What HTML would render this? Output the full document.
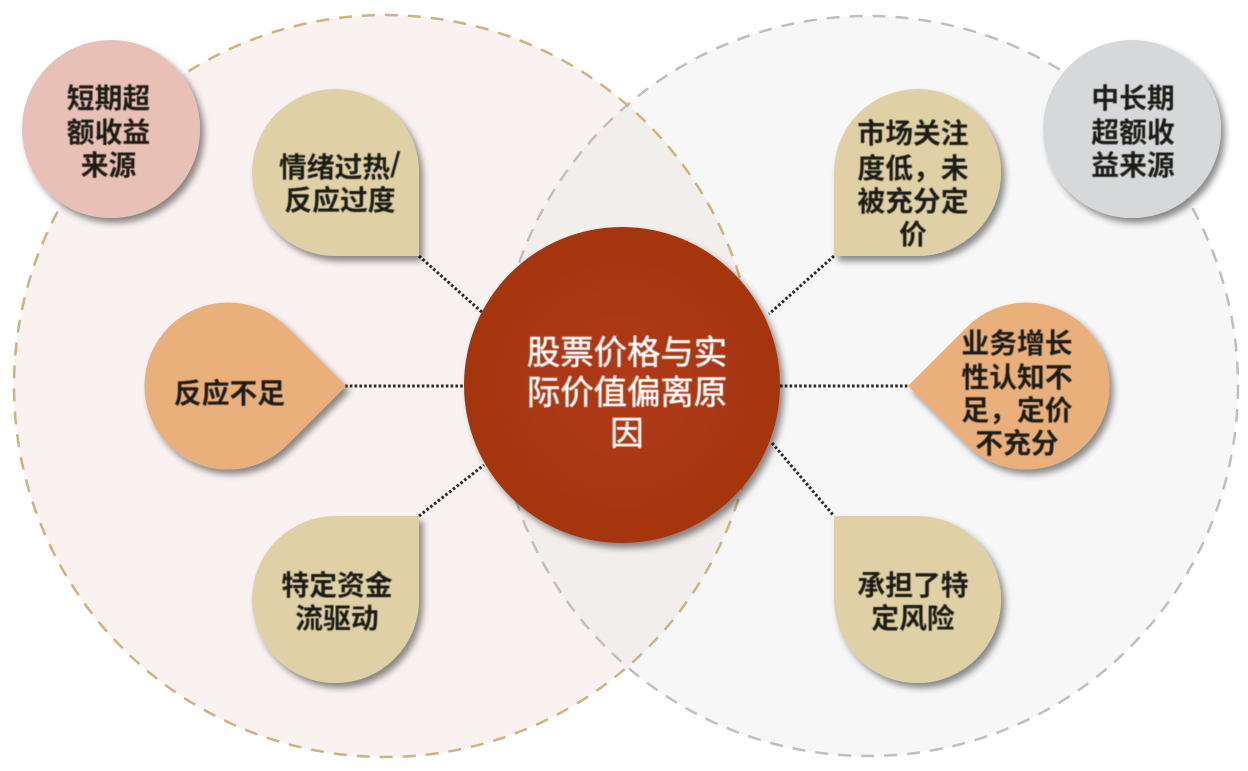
<!DOCTYPE html>
<html lang="zh"><head><meta charset="utf-8"><title>股票价格与实际价值偏离原因</title>
<style>
html,body{margin:0;padding:0;background:#fff;width:1248px;height:771px;overflow:hidden}
svg{display:block}
text{font-family:"Liberation Sans","Noto Sans CJK SC",sans-serif;font-weight:700;fill:#1c1a16;font-size:27.8px;text-anchor:middle}
.c{fill:#fff;font-size:33.4px;font-weight:400;stroke:#fff;stroke-width:.5px}
</style></head><body>
<svg width="1248" height="771" viewBox="0 0 1248 771" xmlns="http://www.w3.org/2000/svg">
<defs>
<filter id="s" x="-20%" y="-20%" width="150%" height="150%"><feDropShadow dx="4" dy="5" stdDeviation="3.5" flood-color="#000" flood-opacity=".45"/></filter>
<filter id="b" x="-5%" y="-20%" width="110%" height="140%"><feGaussianBlur stdDeviation=".5"/></filter>
<radialGradient id="r"><stop offset="0" stop-color="#b03a13"/><stop offset="1" stop-color="#a43511"/></radialGradient>
<clipPath id="cl"><circle cx="385" cy="386" r="371"/></clipPath>
</defs>
<circle cx="385" cy="386" r="371" fill="#f9f2f0"/>
<circle cx="868" cy="386" r="370" fill="#f7f7f7"/>
<circle cx="868" cy="386" r="370" fill="#f2eeeb" clip-path="url(#cl)"/>
<circle cx="868" cy="386" r="370" fill="none" stroke="#bcc0c2" stroke-width="2.5" stroke-dasharray="13 10"/>
<circle cx="385" cy="386" r="371" fill="none" stroke="#cdb384" stroke-width="2.5" stroke-dasharray="13 10"/>
<g stroke="#2a2a2a" stroke-width="3" stroke-dasharray="2.6 2.2" fill="none">
<path d="M419 256L484 314M345 386H464M419 516L484 465M834 256L769 314M780 386H908M772 443L834 516"/>
</g>
<g filter="url(#s)">
<circle cx="111" cy="129" r="89" fill="#e9c0b5"/>
<circle cx="1132" cy="129" r="89" fill="#d7d8da"/>
<path d="M419 256H336A83.5 83.5 0 1 1 419 172.500Z" fill="#dfd0a6"/>
<path d="M419 516H336A83.500 83.500 0 1 0 419 599.500Z" fill="#dfd0a6"/>
<path d="M834 256H917A83.500 83.500 0 1 0 834 172.500Z" fill="#dfd0a6"/>
<path d="M834 516H917A83.500 83.500 0 1 1 834 599.500Z" fill="#dfd0a6"/>
<path d="M346 386L287 327A83.500 83.500 0 1 0 287 445Z" fill="#e9b07c"/>
<path d="M908 386L967 327A83.500 83.500 0 1 1 967 445Z" fill="#e9b07c"/>
<circle cx="622" cy="385" r="158" fill="url(#r)"/>
</g>
<g filter="url(#b)">
<text x="108.500" y="108">短期超</text><text x="108.500" y="142">额收益</text><text x="108.500" y="175">来源</text>
<text x="1133" y="108">中长期</text><text x="1133" y="142">超额收</text><text x="1133" y="175">益来源</text>
<text x="279" y="177" style="text-anchor:start">情绪过热<tspan style="font-size:36px;font-weight:400">/</tspan></text><text x="340" y="210">反应过度</text>
<text x="229.500" y="403">反应不足</text>
<text x="337" y="595">特定资金</text><text x="337" y="628">流驱动</text>
<text x="913" y="143">市场关注</text><text x="913" y="178">度低，未</text><text x="913" y="211">被充分定</text><text x="913" y="244">价</text>
<text x="1017" y="353">业务增长</text><text x="1017" y="387">性认知不</text><text x="1017" y="420">足，定价</text><text x="1017" y="453">不充分</text>
<text x="913" y="595">承担了特</text><text x="913" y="628">定风险</text>
<text class="c" x="627" y="364">股票价格与实</text><text class="c" x="627" y="404">际价值偏离原</text><text class="c" x="627" y="445">因</text>
</g>
</svg>
</body></html>
